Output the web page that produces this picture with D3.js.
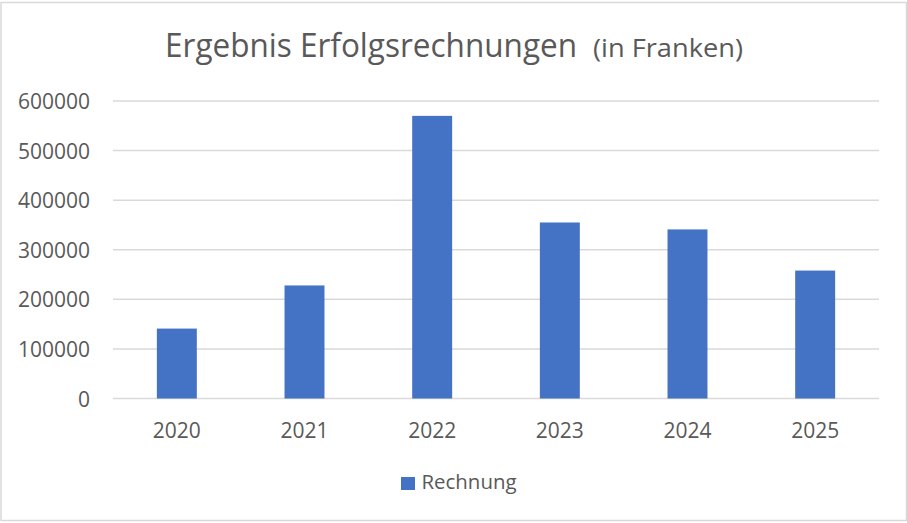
<!DOCTYPE html>
<html>
<head>
<meta charset="utf-8">
<script src="https://cdn.jsdelivr.net/npm/d3@7"></script>
<style>
  html, body { margin: 0; padding: 0; background: #fff; }
  svg { display: block; }
  text { font-family: "Open Sans", "Noto Sans", sans-serif; fill: #595959; }
</style>
</head>
<body>
<svg id="chart" width="907" height="523"></svg>
<script>
const categories = ["2020", "2021", "2022", "2023", "2024", "2025"];
const values = [141000, 228000, 570000, 355000, 341000, 258000];
const yTicks = [0, 100000, 200000, 300000, 400000, 500000, 600000];
const seriesName = "Rechnung";
const titleMain = "Ergebnis Erfolgsrechnungen";
const titleSub = "(in Franken)";

const W = 907, H = 523;
const svg = d3.select("#chart");

// chart border
svg.append("rect")
  .attr("x", 1).attr("y", 2.5).attr("width", W - 1.5).attr("height", 518)
  .attr("fill", "#fff").attr("stroke", "#d9d9d9").attr("stroke-width", 1.5);

const x = d3.scaleBand().domain(categories).range([113, 879])
  .paddingInner(0.687).paddingOuter(0.3435);
const y = d3.scaleLinear().domain([0, 600000]).range([398.5, 101]);

// gridlines
svg.append("g").selectAll("line").data(yTicks).join("line")
  .attr("x1", 113).attr("x2", 879)
  .attr("y1", d => y(d)).attr("y2", d => y(d))
  .attr("stroke", "#d9d9d9").attr("stroke-width", 1.5);

// y axis labels
const yAxis = d3.axisLeft(y).tickValues(yTicks).tickSize(0).tickPadding(0)
  .tickFormat(d3.format("d"));
const gy = svg.append("g").attr("transform", "translate(90,0)").call(yAxis);
gy.select(".domain").remove();
gy.selectAll("text").attr("font-size", 21).attr("fill", "#595959")
  .attr("font-family", "'Open Sans', sans-serif").attr("dy", "0.36em");

// bars
svg.append("g").selectAll("rect").data(values).join("rect")
  .attr("x", (d, i) => x(categories[i]))
  .attr("width", x.bandwidth())
  .attr("y", d => y(d))
  .attr("height", d => y(0) - y(d))
  .attr("fill", "#4472c4");

// x axis labels
const xAxis = d3.axisBottom(x).tickSize(0).tickPadding(0);
const gx = svg.append("g").attr("transform", "translate(0,437.5)").call(xAxis);
gx.select(".domain").remove();
gx.selectAll("text").attr("font-size", 21).attr("fill", "#595959")
  .attr("font-family", "'Open Sans', sans-serif").attr("dy", 0);

// title
svg.append("text").attr("x", 165).attr("y", 57)
  .attr("font-size", 33).attr("textLength", 412).attr("lengthAdjust", "spacingAndGlyphs")
  .text(titleMain);
svg.append("text").attr("x", 593).attr("y", 57)
  .attr("font-size", 25).attr("textLength", 150).attr("lengthAdjust", "spacingAndGlyphs")
  .text(titleSub);

// legend
svg.append("rect").attr("x", 401).attr("y", 477).attr("width", 14).attr("height", 13)
  .attr("fill", "#4472c4");
svg.append("text").attr("x", 421.5).attr("y", 489.3)
  .attr("font-size", 20).attr("textLength", 95).attr("lengthAdjust", "spacingAndGlyphs")
  .text(seriesName);
</script>
</body>
</html>
